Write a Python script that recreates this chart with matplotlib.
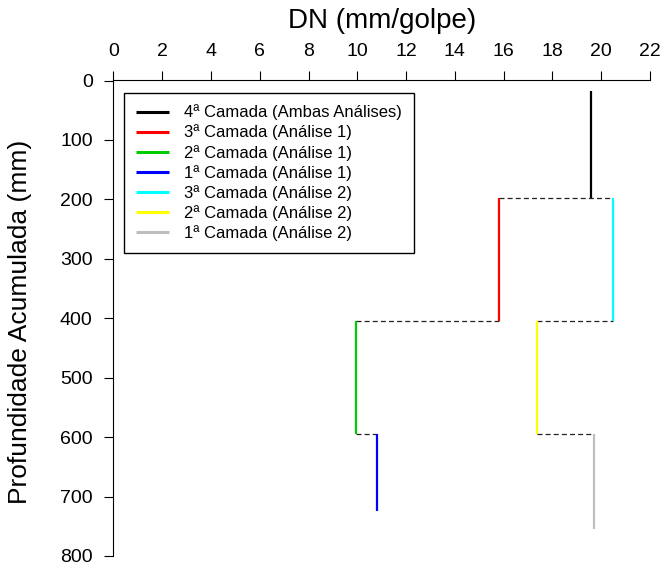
import matplotlib
matplotlib.use("Agg")
import matplotlib.pyplot as plt

plt.rcParams['font.family'] = ['Liberation Sans', 'DejaVu Sans']

# camadas: (DN, profundidade inicial, profundidade final)
labels = ["4ª Camada (Ambas Análises)", "3ª Camada (Análise 1)", "2ª Camada (Análise 1)",
          "1ª Camada (Análise 1)", "3ª Camada (Análise 2)", "2ª Camada (Análise 2)",
          "1ª Camada (Análise 2)"]
colors = ["black", "#FF0000", "#00CD00", "#0000FF", "#00FFFF", "#FFFF00", "#BEBEBE"]
dn = [19.6, 15.8, 9.95, 10.8, 20.5, 17.35, 19.7]
z_top = [17, 197, 405, 594, 197, 405, 594]
z_bot = [197, 405, 594, 725, 405, 594, 754]

# ligações tracejadas entre camadas (x1, x2, profundidade)
link_x1 = [15.8, 9.95, 17.35, 9.95, 17.35]
link_x2 = [20.5, 15.8, 20.5, 10.8, 19.7]
link_z = [197, 405, 405, 594, 594]

fig = plt.figure(figsize=(6.64, 5.69), dpi=100)
ax = fig.add_axes([113.5 / 664, 1 - 556 / 569, (650 - 113.5) / 664, (556 - 80.5) / 569])

for x1, x2, z in zip(link_x1, link_x2, link_z):
    ax.plot([x1, x2], [z, z], color="#222222", lw=0.9, ls=(0, (4, 2.5)), zorder=1)

for lab, c, x, z0, z1 in zip(labels, colors, dn, z_top, z_bot):
    ax.plot([x, x], [z0, z1], color=c, lw=1.6, label=lab, zorder=2,
            solid_capstyle='butt')

ax.set_xlim(0, 22)
ax.set_ylim(800, 0)
ax.set_xticks(range(0, 23, 2))
ax.set_yticks(range(0, 801, 100))
ax.xaxis.tick_top()
ax.spines['right'].set_visible(False)
ax.spines['bottom'].set_visible(False)
ax.spines['top'].set_linewidth(0.8)
ax.spines['left'].set_linewidth(0.8)
ax.tick_params(direction='out', length=6.5, width=0.8, labelsize=14, pad=8.5)

fig.text(382 / 664, 1 - 21 / 569, "DN (mm/golpe)", fontsize=20, ha='center', va='center')
fig.text(20 / 664, 1 - 322 / 569, "Profundidade Acumulada (mm)", fontsize=19,
         ha='center', va='center', rotation=90)

leg = ax.legend(loc='upper left', bbox_to_anchor=(124 / 664, 1 - 92.5 / 569),
                bbox_transform=fig.transFigure, fontsize=12, frameon=True,
                fancybox=False, framealpha=1, edgecolor='black',
                handlelength=2.0, handletextpad=0.9, labelspacing=0.25,
                borderpad=0.72, borderaxespad=0)
leg.get_frame().set_linewidth(1)
for h in leg.get_lines():
    h.set_linewidth(2.2)

fig.savefig("out.png", dpi=100)
